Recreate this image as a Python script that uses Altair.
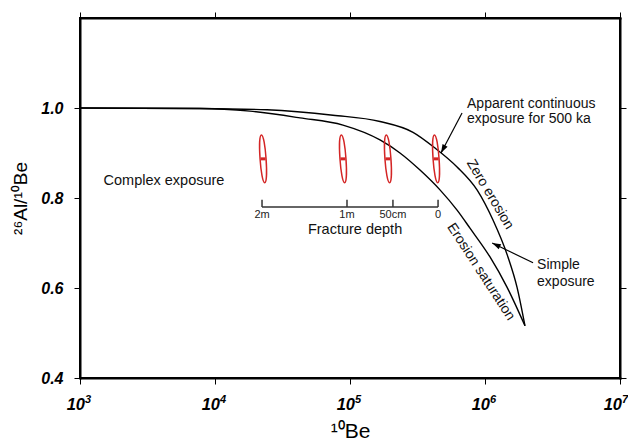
import altair as alt
import pandas as pd

# ---- data ----
zero_x = [1e3, 7.74e3, 2.43e4, 7.48e4, 1.668e5, 2.93e5, 4.266e5, 6.21e5, 8.73e5, 1.146e6, 1.479e6, 1.726e6, 1.977e6]
zero_y = [1.0, 0.999, 0.996, 0.984, 0.970, 0.946, 0.911, 0.869, 0.818, 0.751, 0.669, 0.602, 0.516]
sat_x = [1e3, 7.74e3, 1.815e4, 4.263e4, 8.87e4, 1.668e5, 2.345e5, 3.3e5, 4.64e5, 6.21e5, 7.74e5, 1.089e6, 1.455e6, 1.977e6]
sat_y = [1.0, 0.999, 0.993, 0.978, 0.962, 0.929, 0.900, 0.862, 0.818, 0.773, 0.733, 0.669, 0.602, 0.516]

ellipse_x = [2.27e4, 8.87e4, 1.91e5, 4.34e5]
ellipse_y = [0.887, 0.887, 0.887, 0.887]

depth_labels = ["2m", "1m", "50cm", "0"]
depth_x = [2.23e4, 9.5e4, 2.08e5, 4.49e5]
depth_line_y = 0.780
depth_tick_top = 0.796
depth_label_y = 0.762

center_text = ["Complex exposure", "Fracture depth"]
center_x = [4.19e3, 1.09e5]
center_y = [0.838, 0.729]

left_text = ["Apparent continuous", "exposure for 500 ka", "Simple", "exposure"]
left_x = [7.36e5, 7.36e5, 2.43e6, 2.43e6]
left_y = [1.009, 0.976, 0.651, 0.613]

curve_text = ["Zero erosion", "Erosion saturation"]
curve_text_x = [1.09e6, 9.33e5]
curve_text_y = [0.808, 0.636]
curve_text_angle = [59, 57]

arrow_x = [6.76e5, 2.27e6]
arrow_y = [0.989, 0.656]
arrow_x2 = [4.72e5, 1.13e6]
arrow_y2 = [0.900, 0.700]
arrow_angle = [208, 296]

x_ticks = [1e3, 1e4, 1e5, 1e6, 1e7]
x_tick_base = ["10", "10", "10", "10", "10"]
x_tick_exp = ["3", "4", "5", "6", "7"]
y_ticks = [0.4, 0.6, 0.8, 1.0]

# ---- chart ----
FONT = "Liberation Sans"
xscale = alt.Scale(type="log", domain=[1e3, 1e7], nice=False)
yscale = alt.Scale(domain=[0.4, 1.2], nice=False, zero=False)

curves = pd.DataFrame(
    {"x": zero_x + sat_x,
     "y": zero_y + sat_y,
     "series": ["Zero erosion"] * len(zero_x) + ["Erosion saturation"] * len(sat_x)}
)

frame = dict(domain=True, domainColor="black", domainWidth=2, domainCap="square",
             grid=False, tickSize=6, tickColor="black", tickWidth=1)

x_axis = alt.Axis(
    values=x_ticks, labels=False,
    title="¹⁰Be", titleFontSize=21, titleFontWeight="normal", titlePadding=36,
    titleColor="black", titleFont=FONT, **frame,
)
y_axis = alt.Axis(
    values=y_ticks, format=".1f",
    title="²⁶Al/¹⁰Be", titleFontSize=19, titleFontWeight="normal", titlePadding=10,
    labelFontSize=16, labelFontStyle="italic", labelFontWeight="bold",
    labelPadding=11, labelColor="black", titleColor="black", labelFont=FONT,
    titleFont=FONT, **frame,
)

curve_layer = alt.Chart(curves).mark_line(
    color="black", strokeWidth=1.4, interpolate="monotone"
).encode(
    x=alt.X("x:Q", scale=xscale, axis=x_axis),
    y=alt.Y("y:Q", scale=yscale, axis=y_axis),
    detail="series:N",
)

ell = pd.DataFrame({"x": ellipse_x, "y": ellipse_y})
ellipse_path = "M0,-1 C0.1667,-1 0.1667,1 0,1 C-0.1667,1 -0.1667,-1 0,-1 Z"
ellipse_layer = alt.Chart(ell).mark_point(
    shape=ellipse_path, size=2304, filled=False, stroke="#d42525",
    strokeWidth=1.5, angle=356, opacity=1
).encode(
    x=alt.X("x:Q", scale=xscale,
            axis=alt.Axis(orient="top", values=x_ticks, labels=False, title=None, **frame)),
    y=alt.Y("y:Q", scale=yscale,
            axis=alt.Axis(orient="right", values=y_ticks, labels=False, title=None, **frame)),
)
center_mark = alt.Chart(ell).mark_point(
    shape="M-1,-0.6 L1,-0.6 L1,0.6 L-1,0.6 Z", size=25, filled=True,
    color="#d42525", opacity=1
).encode(
    x=alt.X("x:Q", scale=xscale, axis=None),
    y=alt.Y("y:Q", scale=yscale, axis=None),
)

depth = pd.DataFrame({"x": depth_x, "label": depth_labels})
depth_line = alt.Chart(pd.DataFrame({"x": [depth_x[0]], "x2": [depth_x[-1]]})).mark_rule(
    color="#333333", strokeWidth=1.5
).encode(
    x=alt.X("x:Q", scale=xscale, axis=None), x2="x2:Q",
    y=alt.Y("y:Q", scale=yscale, axis=None),
).transform_calculate(y=str(depth_line_y))
depth_ticks = alt.Chart(depth).mark_rule(color="#333333", strokeWidth=1.5).encode(
    x=alt.X("x:Q", scale=xscale, axis=None),
    y=alt.Y("y:Q", scale=yscale, axis=None), y2="y2:Q",
).transform_calculate(y=str(depth_line_y), y2=str(depth_tick_top))
depth_text = alt.Chart(depth).mark_text(
    font=FONT, fontSize=11, color="#222222", baseline="middle", align="center"
).encode(
    x=alt.X("x:Q", scale=xscale, axis=None),
    y=alt.Y("y:Q", scale=yscale, axis=None), text="label:N",
).transform_calculate(y=str(depth_label_y))

ctext = alt.Chart(pd.DataFrame({"x": center_x, "y": center_y, "t": center_text})).mark_text(
    font=FONT, fontSize=14.5, color="#111111", baseline="middle", align="center"
).encode(
    x=alt.X("x:Q", scale=xscale, axis=None),
    y=alt.Y("y:Q", scale=yscale, axis=None), text="t:N",
)
ltext = alt.Chart(pd.DataFrame({"x": left_x, "y": left_y, "t": left_text})).mark_text(
    font=FONT, fontSize=14, color="#111111", baseline="middle", align="left"
).encode(
    x=alt.X("x:Q", scale=xscale, axis=None),
    y=alt.Y("y:Q", scale=yscale, axis=None), text="t:N",
)
rtext = alt.Chart(pd.DataFrame({"x": curve_text_x, "y": curve_text_y,
                                "t": curve_text, "a": curve_text_angle})).mark_text(
    font=FONT, fontSize=14, color="#111111", baseline="middle", align="center"
).encode(
    x=alt.X("x:Q", scale=xscale, axis=None),
    y=alt.Y("y:Q", scale=yscale, axis=None), text="t:N",
    angle=alt.Angle("a:Q", scale=None),
)

arrows = pd.DataFrame({"x": arrow_x, "y": arrow_y, "x2": arrow_x2, "y2": arrow_y2,
                       "a": arrow_angle})
arrow_lines = alt.Chart(arrows).mark_rule(color="black", strokeWidth=1.2).encode(
    x=alt.X("x:Q", scale=xscale, axis=None), x2="x2:Q",
    y=alt.Y("y:Q", scale=yscale, axis=None), y2="y2:Q",
)
arrow_heads = alt.Chart(arrows).mark_point(
    shape="M0,0 L0.33,1 L-0.33,1 Z", size=300, filled=True, color="black", opacity=1
).encode(
    x=alt.X("x2:Q", scale=xscale, axis=None),
    y=alt.Y("y2:Q", scale=yscale, axis=None),
    angle=alt.Angle("a:Q", scale=None),
)

# x tick labels as 10 with a raised exponent (last one nudged to stay inside the page)
ticklab = pd.DataFrame({"x": x_ticks, "b": x_tick_base, "e": x_tick_exp})


def tick_labels(df, shift):
    base = alt.Chart(df).mark_text(
        font=FONT, fontSize=16.5, fontStyle="italic", fontWeight="bold", color="black",
        align="right", baseline="alphabetic", dx=5 + shift, dy=32
    ).encode(
        x=alt.X("x:Q", scale=xscale, axis=None),
        y=alt.Y("y:Q", scale=yscale, axis=None), text="b:N",
    ).transform_calculate(y="0.4")
    exp = alt.Chart(df).mark_text(
        font=FONT, fontSize=11, fontStyle="italic", fontWeight="bold", color="black",
        align="left", baseline="alphabetic", dx=5 + shift, dy=25
    ).encode(
        x=alt.X("x:Q", scale=xscale, axis=None),
        y=alt.Y("y:Q", scale=yscale, axis=None), text="e:N",
    ).transform_calculate(y="0.4")
    return [base, exp]


tl_main = tick_labels(ticklab.iloc[:-1], 0)
tl_last = tick_labels(ticklab.iloc[-1:], -3)

chart = alt.layer(
    curve_layer, ellipse_layer, center_mark, depth_line, depth_ticks, depth_text,
    ctext, ltext, rtext, arrow_lines, arrow_heads, *tl_main, *tl_last,
).resolve_axis(x="independent", y="independent").properties(
    width=540, height=360, background="white",
    autosize=alt.AutoSizeParams(type="none"),
    padding={"left": 72, "top": 10, "right": 8, "bottom": 66},
).configure_view(stroke="black", strokeWidth=2)

chart.save("out.html", embed_options={"renderer": "svg", "actions": False})
